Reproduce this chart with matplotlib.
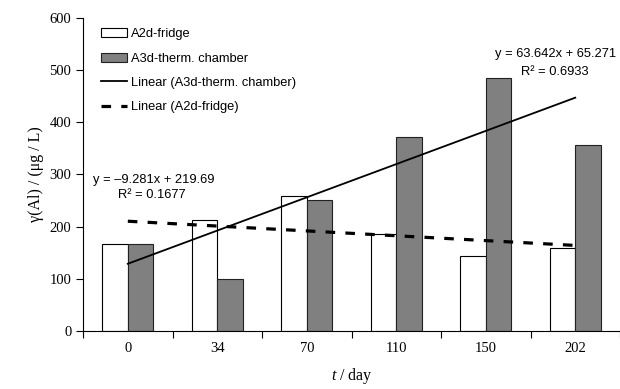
import numpy as np
import matplotlib.pyplot as plt

plt.rcParams['mathtext.fontset'] = 'custom'
plt.rcParams['mathtext.it'] = 'Liberation Serif:italic'
plt.rcParams['mathtext.rm'] = 'Liberation Serif'

days = ['0', '34', '70', '110', '150', '202']
fridge = [167, 213, 259, 185, 144, 160]
chamber = [167, 100, 251, 371, 485, 356]

# trend line coefficients (x = 1..n)
chamber_fit = (63.642, 65.271, 0.6933)
fridge_fit = (-9.281, 219.69, 0.1677)

sans = 'Liberation Sans'
serif = 'Liberation Serif'
fs = 9.3

fig = plt.figure(figsize=(6.2, 3.89), dpi=100)
ax = fig.add_axes([0.134, 0.149, 0.866, 0.805])

x = np.arange(len(days))
w = 0.286
b1 = ax.bar(x - w/2, fridge, w, color='white', edgecolor='black', linewidth=0.8, label='A2d-fridge')
b2 = ax.bar(x + w/2, chamber, w, color='#808080', edgecolor='#222222', linewidth=0.8, label='A3d-therm. chamber')

n = np.arange(1, len(days) + 1)
l1, = ax.plot(x, chamber_fit[0]*n + chamber_fit[1], color='black', lw=1.3,
              label='Linear (A3d-therm. chamber)')
l2, = ax.plot(x, fridge_fit[0]*n + fridge_fit[1], color='black', lw=2.3,
              dashes=(3, 3.2), label='Linear (A2d-fridge)')

ax.text(0.29, 289, 'y = \u20139.281x + 219.69', family=sans, fontsize=fs, ha='center', va='center')
ax.text(0.27, 261, 'R\u00b2 = 0.1677', family=sans, fontsize=fs, ha='center', va='center')
ax.text(4.78, 531, 'y = 63.642x + 65.271', family=sans, fontsize=fs, ha='center', va='center')
ax.text(4.77, 497, 'R\u00b2 = 0.6933', family=sans, fontsize=fs, ha='center', va='center')

ax.set_xlim(-0.5, len(days) - 0.5)
ax.set_ylim(0, 600)
ax.set_yticks(range(0, 601, 100))
ax.set_xticks(x)
ax.set_xticklabels(days)
ax.set_xticks(np.arange(-0.5, len(days), 1), minor=True)
ax.tick_params(axis='x', which='major', length=0, pad=8)
ax.tick_params(axis='x', which='minor', length=5, direction='out', width=0.8)
ax.tick_params(axis='y', length=5, width=0.8, direction='out')
for lab in ax.get_xticklabels() + ax.get_yticklabels():
    lab.set_family(serif)
    lab.set_fontsize(10.5)

ax.spines['top'].set_visible(False)
ax.spines['right'].set_visible(False)
ax.spines['left'].set_linewidth(0.8)
ax.spines['bottom'].set_linewidth(0.8)

ax.set_ylabel('\u03b3(Al) / (\u03bcg / L)', family=serif, fontsize=11.5)
ax.set_xlabel('$t$ / day', family=serif, fontsize=11.5, labelpad=8)

ax.legend(handles=[b1, b2, l1, l2], loc='upper left', bbox_to_anchor=(0.015, 1.0), frameon=False,
          prop={'family': sans, 'size': fs}, handlelength=2.0, handletextpad=0.3,
          labelspacing=0.95, borderpad=0.3)

fig.savefig('out.png', dpi=100)
